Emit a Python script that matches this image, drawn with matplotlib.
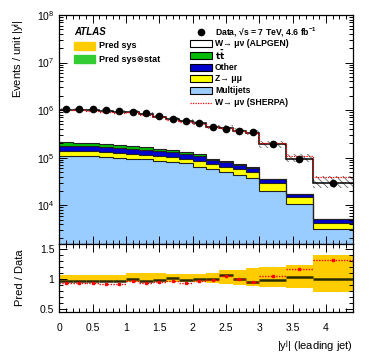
import numpy as np
import matplotlib.pyplot as plt
from matplotlib.patches import Rectangle
from matplotlib.lines import Line2D
from matplotlib.ticker import MultipleLocator, FuncFormatter, LogLocator

plt.rcParams['font.family'] = ['Liberation Sans', 'DejaVu Sans']
plt.rcParams['mathtext.default'] = 'regular'
plt.rcParams['hatch.linewidth'] = 0.6

# |y| of leading jet, bin edges
edges = np.array([0, 0.2, 0.4, 0.6, 0.8, 1.0, 1.2, 1.4, 1.6, 1.8, 2.0, 2.2,
                  2.4, 2.6, 2.8, 3.0, 3.4, 3.8, 4.4])

data = np.array([1.06e6, 1.06e6, 1.04e6, 1.00e6, 9.5e5, 9.3e5, 8.6e5, 7.4e5, 6.4e5,
                 6.0e5, 5.4e5, 4.4e5, 3.95e5, 3.7e5, 3.5e5, 1.94e5, 9.3e4, 2.9e4])
multijets = np.array([1.11e5, 1.11e5, 1.09e5, 1.04e5, 9.9e4, 9.6e4, 9.3e4, 8.5e4, 8.1e4,
                      7.6e4, 6.5e4, 5.65e4, 4.9e4, 4.3e4, 3.7e4, 2.0e4, 1.05e4, 3.2e3])
zmumu = np.array([2.9e4, 2.9e4, 2.6e4, 2.5e4, 2.4e4, 2.4e4, 2.1e4, 2.1e4, 2.0e4,
                  2.0e4, 2.0e4, 1.55e4, 1.6e4, 1.5e4, 1.3e4, 9e3, 4.2e3, 1.0e3])
other = np.array([3.9e4, 3.9e4, 3.7e4, 3.5e4, 3.3e4, 3.3e4, 3.1e4, 2.9e4, 2.8e4,
                  2.4e4, 2.4e4, 1.8e4, 1.6e4, 1.2e4, 1.1e4, 6e3, 2.6e3, 9e2])
ttbar = np.array([3.0e4, 2.8e4, 2.7e4, 2.6e4, 2.5e4, 1.9e4, 1.9e4, 1.8e4, 1.3e4,
                  1.2e4, 8e3, 4e3, 4e3, 2.5e3, 1.5e3, 4e2, 1.5e2, 50])
w_alpgen = np.array([8.19e5, 8.21e5, 8.10e5, 7.80e5, 7.41e5, 7.58e5, 6.70e5, 5.72e5, 5.11e5,
                     4.56e5, 4.23e5, 3.42e5, 3.38e5, 2.97e5, 2.67e5, 1.54e5, 7.84e4, 2.36e4])
w_sherpa = np.array([9.86e5, 9.86e5, 9.67e5, 9.2e5, 8.74e5, 9.02e5, 8.0e5, 7.03e5, 6.21e5,
                     5.64e5, 5.18e5, 4.31e5, 4.11e5, 3.7e5, 3.34e5, 2.02e5, 1.08e5, 3.83e4])
# relative systematic band
sys_hi = np.array([1.07, 1.07, 1.07, 1.07, 1.07, 1.09, 1.09, 1.09, 1.08,
                   1.08, 1.08, 1.095, 1.14, 1.15, 1.18, 1.19, 1.23, 1.40])
sys_lo = np.array([0.955, 0.955, 0.955, 0.955, 0.955, 0.955, 0.955, 0.95, 0.955,
                   0.955, 0.95, 0.928, 0.92, 0.90, 0.89, 0.86, 0.855, 0.79])

centers = 0.5 * (edges[:-1] + edges[1:])
s1 = multijets
s2 = s1 + zmumu
s3 = s2 + other
s4 = s3 + ttbar
total = s4 + w_alpgen

W, H = 374, 359
fig = plt.figure(figsize=(W / 100, H / 100), dpi=100)
ax = fig.add_axes([59.3 / W, 1 - 244 / H, 293.5 / W, 229 / H])
rax = fig.add_axes([59.3 / W, 1 - 312 / H, 293.5 / W, 68 / H], sharex=ax)

# stacked prediction
ax.stairs(s1, edges, baseline=1, fill=True, color='#99CCFF')
ax.stairs(s2, edges, baseline=s1, fill=True, color='#FFFF00')
ax.stairs(s3, edges, baseline=s2, fill=True, color='#0000CC')
ax.stairs(s4, edges, baseline=s3, fill=True, color='#00BB00')
ax.stairs(total, edges, baseline=s4, fill=True, color='white')
for s in (s1, s2, s3, s4):
    ax.stairs(s, edges, baseline=None, color='#222222', lw=0.8)
ax.stairs(total * sys_hi, edges, baseline=total * sys_lo, fill=True,
          facecolor='none', edgecolor='#666666', hatch='\\\\\\\\\\', lw=0)
ax.stairs(total, edges, baseline=None, color='black', lw=1.1)
ax.stairs(w_sherpa, edges, baseline=None, color='red', lw=0.9, ls=(0, (1, 1)))
ax.plot(centers, data, 'o', color='black', ms=4.5)

ax.set_yscale('log')
ax.set_ylim(1.53e3, 1e8)
ax.set_xlim(0, 4.4)
ax.yaxis.set_major_locator(LogLocator(base=10, numticks=10))
ax.yaxis.set_minor_locator(LogLocator(base=10, subs=np.arange(2, 10), numticks=10))
ax.set_ylabel('Events / unit |y$^{j}$|', fontsize=8, loc='top')
ax.yaxis.set_label_coords(-0.115, 0.98)
ax.tick_params(labelbottom=False)

# ratio panel
rax.stairs(sys_hi, edges, baseline=sys_lo, fill=True, color='#FFCC00')
rax.hlines(total / data, edges[:-1], edges[1:], color='#2a2a00', lw=1.8)
rax.hlines(w_sherpa / data, edges[:-1], edges[1:], color='red', lw=1.0, ls=(0, (1, 1)))
rax.plot(centers, w_sherpa / data, 's', color='red', ms=2)
rax.set_ylim(0.45, 1.58)
rax.yaxis.set_major_locator(MultipleLocator(0.5))
rax.yaxis.set_minor_locator(MultipleLocator(0.1))
rax.yaxis.set_major_formatter(FuncFormatter(lambda v, p: '%g' % v))
rax.set_ylabel('Pred / Data', fontsize=8)
rax.yaxis.set_label_coords(-0.118, 0.5)
rax.xaxis.set_major_locator(MultipleLocator(0.5))
rax.xaxis.set_minor_locator(MultipleLocator(0.1))
rax.xaxis.set_major_formatter(FuncFormatter(lambda v, p: '%g' % v))
rax.set_xlabel('|y$^{j}$| (leading jet)', fontsize=8, loc='right')

for a in (ax, rax):
    a.tick_params(which='both', direction='in', top=True, right=True, labelsize=7.5,
                  width=0.7)
    a.tick_params(which='major', length=6)
    a.tick_params(which='minor', length=3)
    for sp in a.spines.values():
        sp.set_linewidth(0.9)
rax.tick_params(axis='x', pad=8)


# legends, placed in pixel coordinates
def fx(x):
    return x / W


def fy(y):
    return 1 - y / H


fig.text(fx(74), fy(31.7), 'ATLAS', fontsize=7, fontweight='bold', style='italic',
         va='center')
for i, (lab, col) in enumerate([('Pred sys', '#FFCC00'), ('Pred sys\u2297stat', '#33CC33')]):
    y = 46 + 13 * i
    fig.patches.append(Rectangle((fx(74), fy(y + 4)), fx(21), 8 / H, color=col,
                                 transform=fig.transFigure))
    fig.text(fx(99), fy(y), lab, fontsize=6.5, fontweight='bold', va='center')

rows = [('Data, \u221as = 7 TeV, 4.6 fb$^{-1}$', 'data'),
        ('W\u2192 \u03bc\u03bd (ALPGEN)', 'white'),
        (r'$\mathbf{t\bar{t}}$', '#00BB00'),
        ('Other', '#0000CC'),
        ('Z\u2192 \u03bc\u03bc', '#FFFF00'),
        ('Multijets', '#99CCFF'),
        ('W\u2192 \u03bc\u03bd (SHERPA)', 'sherpa')]
for i, (lab, kind) in enumerate(rows):
    y = 31.7 + 11.8 * i
    if kind == 'data':
        fig.lines.append(Line2D([fx(201)], [fy(y)], marker='o', color='black', ms=4.5,
                                transform=fig.transFigure))
    elif kind == 'sherpa':
        fig.lines.append(Line2D([fx(190), fx(212)], [fy(y), fy(y)], color='red', lw=0.9,
                                ls=(0, (1, 1)), transform=fig.transFigure))
    else:
        fig.patches.append(Rectangle((fx(190), fy(y + 3.5)), fx(22), 7 / H, facecolor=kind,
                                     edgecolor='black', lw=0.8, transform=fig.transFigure))
    fig.text(fx(215), fy(y), lab, fontsize=6.2, fontweight='bold', va='center')

fig.savefig('out.png', dpi=100)
